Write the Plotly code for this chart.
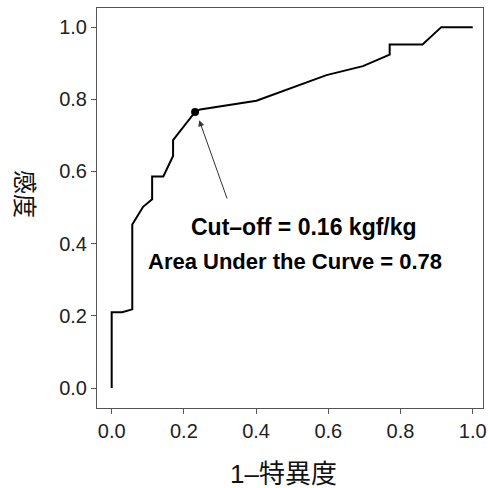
import plotly.graph_objects as go

# ROC curve points (1 - specificity, sensitivity)
fpr = [0.0, 0.0, 0.029, 0.057, 0.057, 0.087, 0.112, 0.112, 0.143, 0.170, 0.170,
       0.231, 0.245, 0.401, 0.595, 0.696, 0.770, 0.770, 0.861, 0.913, 1.0]
tpr = [0.0, 0.21, 0.21, 0.218, 0.453, 0.502, 0.523, 0.586, 0.586, 0.643, 0.687,
       0.765, 0.772, 0.796, 0.867, 0.892, 0.924, 0.952, 0.952, 1.0, 1.0]

cut_x = [0.231]
cut_y = [0.765]

tick_vals = [0.0, 0.2, 0.4, 0.6, 0.8, 1.0]
tick_text = ["0.0", "0.2", "0.4", "0.6", "0.8", "1.0"]

label1 = "Cut\u2013off = 0.16 kgf/kg"
label2 = "Area Under the Curve = 0.78"
xtitle = "1\u2013特異度"
ytitle = "感度"

FONT = "Arial, Liberation Sans, Noto Sans CJK JP, sans-serif"
AX = "#555555"

W, H = 488, 488
l, r, t, b = 97, 5, 8, 80
pw, ph = W - l - r, H - t - b

fig = go.Figure()
fig.add_trace(go.Scatter(x=fpr, y=tpr, mode="lines",
                         line=dict(color="black", width=2), hoverinfo="skip"))
fig.add_trace(go.Scatter(x=cut_x, y=cut_y, mode="markers",
                         marker=dict(color="black", size=8), hoverinfo="skip"))

axis_common = dict(
    showgrid=False, zeroline=False, showline=True, linecolor=AX, linewidth=1,
    mirror=True, ticks="outside", ticklen=5, tickcolor=AX, tickwidth=1,
    tickvals=tick_vals, ticktext=tick_text, automargin=False,
    tickfont=dict(family=FONT, size=20, color="#222222"),
)

fig.update_layout(
    width=W, height=H,
    margin=dict(l=l, r=r, t=t, b=b, autoexpand=False),
    plot_bgcolor="white", paper_bgcolor="white",
    showlegend=False,
    xaxis=dict(range=[-0.0407, 1.0285], **axis_common),
    yaxis=dict(range=[-0.0554, 1.053], **axis_common),
    font=dict(family=FONT),
)

fig.add_annotation(x=cut_x[0] + 0.0115, y=cut_y[0] - 0.023, ax=0.321, ay=0.521,
                   xref="x", yref="y", axref="x", ayref="y",
                   text="", showarrow=True, arrowhead=2, arrowsize=1.2,
                   arrowwidth=1, arrowcolor="#333333")
fig.add_annotation(x=0.532, y=0.447, xref="x", yref="y", text="<b>" + label1 + "</b>",
                   showarrow=False, xanchor="center", yanchor="middle",
                   font=dict(family=FONT, size=23, color="black"))
fig.add_annotation(x=0.507, y=0.350, xref="x", yref="y", text="<b>" + label2 + "</b>",
                   showarrow=False, xanchor="center", yanchor="middle",
                   font=dict(family=FONT, size=22, color="black"))

def px_to_paper(px, py):
    return (px - l) / pw, (H - b - py) / ph

xt = px_to_paper(283, 474)
yt = px_to_paper(25, 194)
fig.add_annotation(x=xt[0], y=xt[1], xref="paper", yref="paper", text=xtitle,
                   showarrow=False, xanchor="center", yanchor="middle",
                   font=dict(family=FONT, size=26, color="#111111"))
fig.add_annotation(x=yt[0], y=yt[1], xref="paper", yref="paper", text=ytitle, textangle=90,
                   showarrow=False, xanchor="center", yanchor="middle",
                   font=dict(family=FONT, size=24, color="#111111"))

fig.write_html(
    "out.html",
    config={"displayModeBar": False},
    post_script="document.body.style.margin='0';"
                "document.documentElement.style.overflow='hidden';"
                "document.body.style.overflow='hidden';",
)
